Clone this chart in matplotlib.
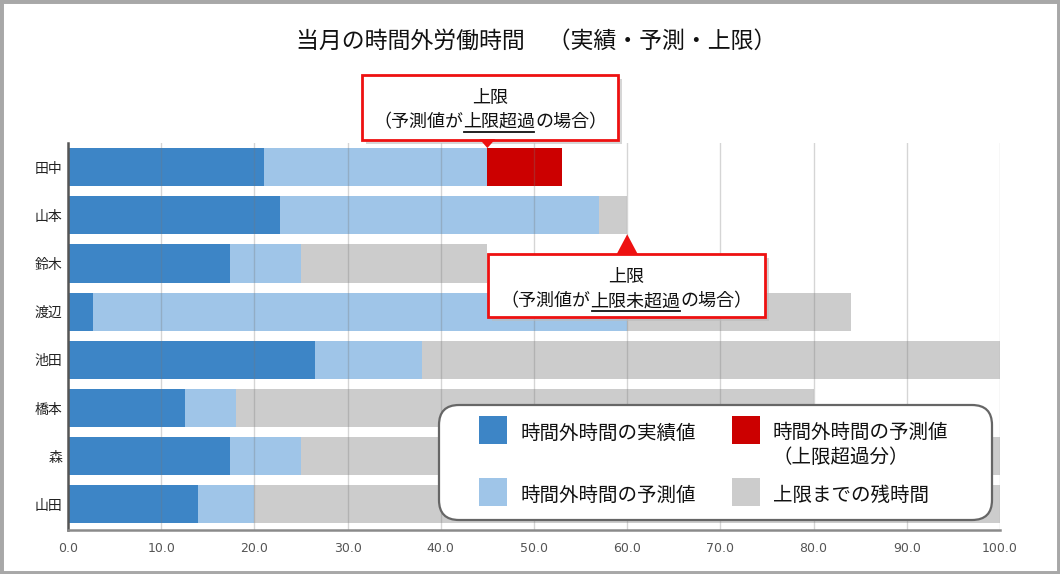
import numpy as np
import matplotlib
matplotlib.use("Agg")
import matplotlib.pyplot as plt
from matplotlib.patches import Rectangle, FancyBboxPatch, Polygon
from matplotlib.lines import Line2D
from matplotlib.transforms import IdentityTransform

plt.rcParams['font.family'] = ['Noto Sans CJK JP', 'DejaVu Sans']

# ---------------- data ----------------
names = ['田中', '山本', '鈴木', '渡辺', '池田', '橋本', '森', '山田']
actual = [21.0, 22.7, 17.4, 2.7, 26.5, 12.5, 17.4, 13.9]      # 実績値
forecast = [53.0, 57.0, 25.0, 60.0, 38.0, 18.0, 25.0, 20.0]   # 予測値 (合計)
limit = [45, 60, 45, 84, 100, 80, 100, 100]                   # 上限
xticks = [0, 10, 20, 30, 40, 50, 60, 70, 80, 90, 100]

legend_labels = ['時間外時間の実績値', '時間外時間の予測値',
                 '時間外時間の予測値', '上限までの残時間']
title = '当月の時間外労働時間　（実績・予測・上限）'

c_act = '#3d85c6'
c_fc = '#9fc5e8'
c_over = '#cc0000'
c_rest = '#cccccc'

W, H = 1060, 574
fig = plt.figure(figsize=(W / 100, H / 100), dpi=100)
ax = fig.add_axes([68 / W, 1 - 530 / H, (1000 - 68) / W, (530 - 143) / H])

actual = np.array(actual)
forecast = np.array(forecast)
limit = np.array(limit, dtype=float)
y = np.arange(len(names))
bh = 0.79

fc_end = np.minimum(forecast, limit)
over = np.clip(forecast - limit, 0, None)
rest = np.clip(limit - forecast, 0, None)

ax.barh(y, actual, height=bh, color=c_act, zorder=2)
ax.barh(y, fc_end - actual, left=actual, height=bh, color=c_fc, zorder=2)
ax.barh(y, over, left=limit, height=bh, color=c_over, zorder=2)
ax.barh(y, rest, left=forecast, height=bh, color=c_rest, zorder=2)

ax.set_xlim(0, 100)
ax.set_ylim(len(names) - 0.5 + 0.03, -0.5 - 0.0)
ax.set_xticks(xticks)
ax.set_xticklabels([f'{v:.1f}' for v in xticks], family=['DejaVu Sans'])
ax.set_yticks(y)
ax.set_yticklabels(names, fontsize=10)
ax.tick_params(axis='x', length=0, pad=9, labelsize=9, labelcolor='#555555')
ax.tick_params(axis='y', length=0, pad=4, labelcolor='#222222')
ax.grid(axis='x', color='#777777', alpha=0.3, linewidth=1, zorder=3)
ax.set_axisbelow(False)
for s in ['top', 'right']:
    ax.spines[s].set_visible(False)
ax.spines['left'].set_color('#555555')
ax.spines['left'].set_linewidth(1.8)
ax.spines['bottom'].set_color('#8a8a8a')
ax.spines['bottom'].set_linewidth(1.8)
ax.spines['left'].set_zorder(4)
ax.spines['bottom'].set_zorder(4)

ID = IdentityTransform()


def P(px, py):
    # image pixel (top-left origin) -> display pixel
    return (px, H - py)


# outer frame
fig.add_artist(Rectangle((0, 0), 1, 1, transform=fig.transFigure, fill=False,
                         edgecolor='#a8a8a8', linewidth=5, zorder=0))

# title
fig.text(298 / W - 0.002, 1 - 41 / H, title, fontsize=16.5, ha='left',
         va='center', color='#111111')

fig.canvas.draw()
renderer = fig.canvas.get_renderer()


def callout(x0, x1, y0, y1, tip, up, parts, fs=13):
    # shadow
    fig.add_artist(Rectangle(P(x0 + 4, y1 + 4), x1 - x0, y1 - y0, transform=ID,
                             facecolor='#bbbbbb', edgecolor='none', alpha=0.6, zorder=8))
    fig.add_artist(Rectangle(P(x0, y1), x1 - x0, y1 - y0, transform=ID,
                             facecolor='white', edgecolor='#ee1111', linewidth=2, zorder=9))
    tx, ty = tip
    hw = 8 if not up else 11
    if up:
        base = P(0, y0)[1] - 1
    else:
        base = P(0, y1)[1] + 1
    fig.add_artist(Polygon([(tx - hw, base), (tx + hw, base), (tx, ty)], closed=True,
                           transform=ID, facecolor='#ee1111', edgecolor='none', zorder=10))
    cx = (x0 + x1) / 2
    fig.text(cx / W, 1 - (y0 + 23) / H, '上限', fontsize=fs, ha='center', va='center',
             color='#111111', zorder=11)
    ly = y0 + 47
    tobjs = [fig.text(0, 1 - ly / H, s, fontsize=fs, ha='left', va='center',
                      color='#111111', zorder=11) for s in parts]
    widths = [t.get_window_extent(renderer).width for t in tobjs]
    xs = cx - sum(widths) / 2
    for t, w in zip(tobjs, widths):
        t.set_x(xs / W)
        xs += w
    ux0 = cx - sum(widths) / 2 + widths[0]
    ux1 = ux0 + widths[1]
    uy = P(0, ly + 10)[1]
    fig.add_artist(Line2D([ux0 + 1, ux1 - 1], [uy, uy], transform=ID, color='#111111',
                          linewidth=1.3, zorder=11))


# tips anchored to the data (limit values, bar edges)
tip1 = ax.transData.transform((limit[0], 0 - bh / 2))
tip2 = ax.transData.transform((limit[1], 1 + bh / 2))
callout(362, 618, 75, 140, tip1, False, ['（予測値が', '上限超過', 'の場合）'])
callout(488, 765, 254, 317, tip2, True, ['（予測値が', '上限未超過', 'の場合）'])

# legend (manual layout)
lx0, lx1, ly0, ly1 = 439, 992, 405, 520
fig.add_artist(FancyBboxPatch(P(lx0, ly1), lx1 - lx0, ly1 - ly0, transform=ID,
                              boxstyle='round,pad=0,rounding_size=20',
                              facecolor='white', edgecolor='#666666', linewidth=1.6, zorder=12))
items = [
    (c_act, 479, 416, legend_labels[0], 521, 433),
    (c_fc, 479, 478, legend_labels[1], 521, 495),
    (c_over, 732, 416, legend_labels[2] + '\n（上限超過分）', 773, 445),
    (c_rest, 732, 478, legend_labels[3], 773, 495),
]
for col, px, py, lab, tx, ty in items:
    fig.add_artist(Rectangle(P(px, py + 28), 28, 28, transform=ID,
                             facecolor=col, edgecolor='none', zorder=13))
    fig.text(tx / W, 1 - ty / H, lab, fontsize=14, ha='left', va='center',
             color='#111111', linespacing=1.25, zorder=13)

fig.savefig('out.png', dpi=100)
